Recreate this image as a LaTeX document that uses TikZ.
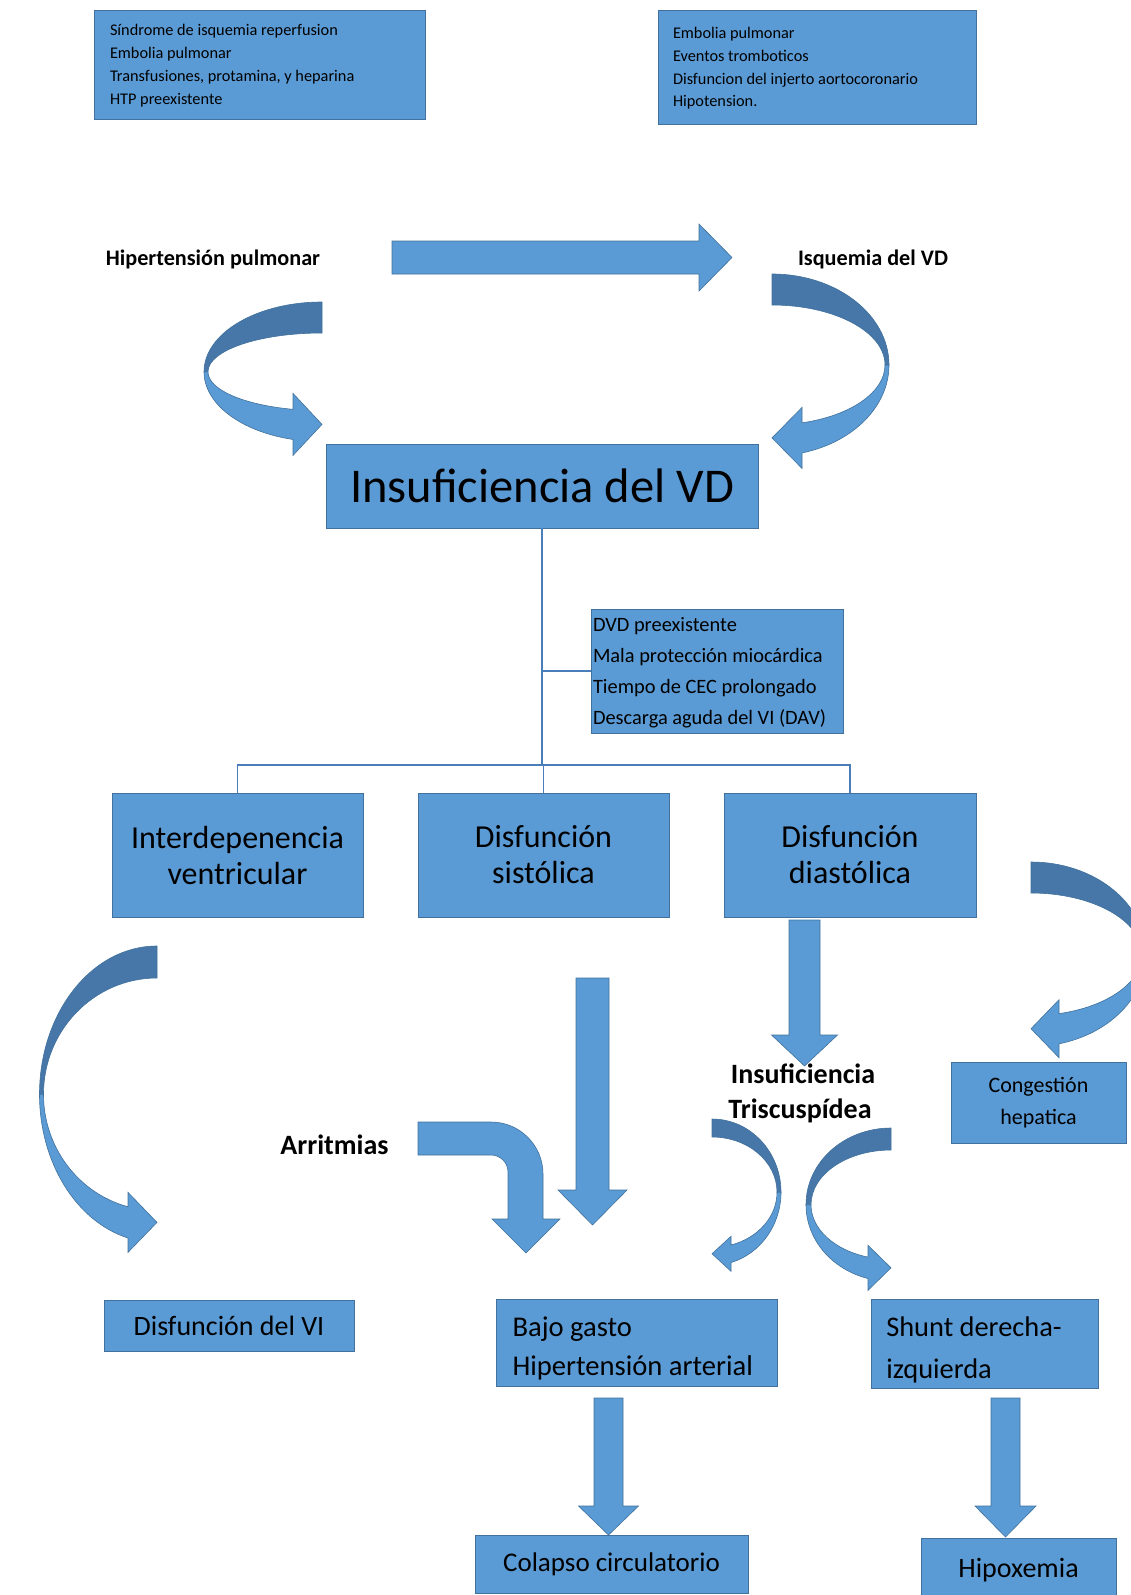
\documentclass[tikz,border=0pt]{standalone}
\usepackage{fontspec}
\setmainfont{Carlito}
\usepackage{tikz}

\definecolor{cajaazul}{HTML}{5B9BD5}
\definecolor{bordeazul}{HTML}{41719C}
\definecolor{azuloscuro}{HTML}{4677A8}
\definecolor{lineaazul}{HTML}{4A7EBB}

% straight block arrow pointing down: tail centre, half shaft, shaft length, half head, head length
\newcommand{\flechabaja}[5]{%
  \draw[flecha, shift={(#1)}] (-#2,0) -- (#2,0) -- (#2,#3) -- (#4,#3) -- (0,#3+#5) -- (-#4,#3) -- (-#2,#3) -- cycle;}

% curved block arrow: centre, side (1 left, -1 right), outer radii, inner radii, head length, half head
\newcommand{\flechacurva}[8]{%
  \begin{scope}[shift={(#1)}, xscale=#2]
    \pgfmathsetmacro\fcAo{acos(-#7/#3)}
    \pgfmathsetmacro\fcAi{acos(-#7/#5)}
    \pgfmathsetmacro\fcYo{#4*sin(\fcAo)}
    \pgfmathsetmacro\fcYi{#6*sin(\fcAi)}
    \pgfmathsetmacro\fcYm{(\fcYo+\fcYi)/2}
    \draw[flechaosc] (0,-#4) arc[start angle=-90, end angle=-180, x radius=#3, y radius=#4]
      -- (-#5,0) arc[start angle=180, end angle=270, x radius=#5, y radius=#6] -- cycle;
    \draw[flecha] (-#3,0) arc[start angle=180, end angle=\fcAo, x radius=#3, y radius=#4]
      -- (-#7,\fcYm+#8) -- (0,\fcYm) -- (-#7,\fcYm-#8) -- (-#7,\fcYi)
      arc[start angle=\fcAi, end angle=180, x radius=#5, y radius=#6] -- cycle;
  \end{scope}}

\begin{document}
\begin{tikzpicture}[x=1pt,y=1pt,yscale=-1,xscale=1,
    caja/.style={draw=bordeazul, fill=cajaazul, line width=0.8, inner sep=0pt, text=black},
    flecha/.style={draw=bordeazul, fill=cajaazul, line width=0.6},
    flechaosc/.style={draw=bordeazul, fill=azuloscuro, line width=0.6},
    enlace/.style={draw=lineaazul, line width=1.1}]

        \useasboundingbox (0,0) rectangle (1131,1595);
        \clip (0,0) rectangle (1131,1595);

        %Shape: Right Arrow
        \draw[flecha] (392,241) -- (699,241) -- (699,224) -- (732,257.5) -- (699,291) -- (699,274) -- (392,274) -- cycle;
        %Shape: Curved Arrows
        \flechacurva{322,371.8}{1}{118}{69.8}{114}{38.8}{29}{31}
        \flechacurva{772,365}{-1}{117}{91}{113}{60}{30}{30.5}
        \flechacurva{157,1094.3}{1}{117.5}{148.3}{113.5}{116.3}{29}{30}
        \flechacurva{1031,954.3}{-1}{115}{92.3}{111}{61.3}{28}{29}
        \flechacurva{712,1192.2}{-1}{69}{73.2}{65}{55.2}{19}{17.5}
        \flechacurva{891,1204.7}{1}{85}{76.7}{80}{54.7}{23}{22.5}
        %Shape: Down Arrows
        \coordinate (colaDiast) at (804.5,920);
        \coordinate (colaSist) at (592.5,978);
        \coordinate (colaGasto) at (608.5,1398);
        \coordinate (colaShunt) at (1005.5,1398);
        \flechabaja{colaDiast}{15.5}{115}{33}{31}
        \flechabaja{colaSist}{16.5}{212}{34.5}{35}
        \flechabaja{colaGasto}{14.5}{108}{30}{29}
        \flechabaja{colaShunt}{14.5}{108}{30.5}{31}
        %Shape: Bent Arrow
        \draw[flecha] (418,1122) -- (491,1122) arc[start angle=-90, end angle=0, radius=52] -- (543,1219) -- (560,1219) -- (526,1253) -- (492,1219) -- (508,1219) -- (508,1172) arc[start angle=0, end angle=-90, radius=17] -- (418,1155) -- cycle;

        % Text Node
        \node[caja, text width=299pt, inner xsep=16pt, minimum height=109pt, text depth=68.5pt, align=flush left, font=\fontsize{16.3}{23}\selectfont] (causasHP) at (259.5,64.5) {Síndrome de isquemia reperfusion\\Embolia pulmonar\\Transfusiones, protamina, y heparina\\HTP preexistente};
        % Text Node
        \node[caja, text width=288pt, inner xsep=15pt, minimum height=114pt, text depth=67.6pt, align=flush left, font=\fontsize{16.3}{22.7}\selectfont] (causasIsq) at (817,67) {Embolia pulmonar\\Eventos tromboticos\\Disfuncion del injerto aortocoronario\\Hipotension.};
        % Text Node
        \node[font=\bfseries\fontsize{22.2}{26}\selectfont] (hipPulm) at (213,259) {Hipertensión pulmonar};
        % Text Node
        \node[font=\bfseries\fontsize{22.2}{26}\selectfont] (isqVD) at (873,259) {Isquemia del VD};
        % Text Node
        \node[caja, minimum width=432pt, minimum height=84pt, font=\fontsize{48.5}{56}\selectfont] (insufVD) at (542,486) {Insuficiencia del VD};
        % Text Node
        \node[caja, text width=248pt, inner xsep=2pt, minimum height=124pt, text depth=94pt, align=flush left, font=\fontsize{20.4}{31.3}\selectfont] (factores) at (717,671) {DVD preexistente\\Mala protección miocárdica\\Tiempo de CEC prolongado\\Descarga aguda del VI (DAV)};
        % Text Node
        \node[caja, text width=251pt, minimum height=124pt, align=center, font=\fontsize{32}{36}\selectfont] (interdep) at (237.5,855) {Interdepenencia\\ventricular};
        \node[caja, text width=251pt, minimum height=124pt, align=center, font=\fontsize{32}{36}\selectfont] (sistol) at (543.5,855) {Disfunción\\sistólica};
        \node[caja, text width=252pt, minimum height=124pt, align=center, font=\fontsize{32}{36}\selectfont] (diastol) at (850,855) {Disfunción\\diastólica};
        % Text Node
        \node[caja, text width=175pt, minimum height=81pt, align=center, font=\fontsize{22}{32}\selectfont] (congHep) at (1038.5,1102.5) {Congestión\\hepatica};
        % Text Node
        \node[align=center, font=\bfseries\fontsize{28}{35}\selectfont] (insufTric) at (800,1093) {\hspace*{6pt}Insuficiencia\\Triscuspídea};
        % Text Node
        \node[font=\bfseries\fontsize{28}{34}\selectfont] (arrit) at (334.5,1145) {Arritmias};
        % Text Node
        \node[caja, minimum width=250pt, minimum height=51pt, font=\fontsize{28}{34}\selectfont] (disfVI) at (229,1325.5) {Disfunción del VI};
        \node[caja, text width=249pt, inner xsep=16pt, minimum height=87pt, text depth=32.6pt, align=flush left, font=\fontsize{28.6}{39}\selectfont] (bajoGasto) at (637,1342.5) {Bajo gasto\\Hipertensión arterial};
        \node[caja, text width=197.5pt, inner xsep=15pt, minimum height=89pt, text depth=33.6pt, align=flush left, font=\fontsize{28.4}{42}\selectfont] (shunt) at (985,1343.5) {Shunt derecha-\\izquierda};
        \node[caja, minimum width=273pt, minimum height=58pt, font=\fontsize{27}{33}\selectfont] (colapso) at (611.5,1564) {Colapso circulatorio};
        \node[caja, minimum width=195pt, minimum height=64pt, font=\fontsize{28}{34}\selectfont] (hipox) at (1018.5,1570) {Hipoxemia};

        %Straight Lines
        \coordinate (rama) at (542,765);
        \draw[enlace] (insufVD.south) -- (rama);
        \draw[enlace] (insufVD.south |- factores.west) -- (factores.west);
        \draw[enlace] (interdep.north) -- (interdep.north |- rama) -- (diastol.north |- rama) -- (diastol.north);
        \draw[enlace] (sistol.north) -- (sistol.north |- rama);

\end{tikzpicture}
\end{document}
